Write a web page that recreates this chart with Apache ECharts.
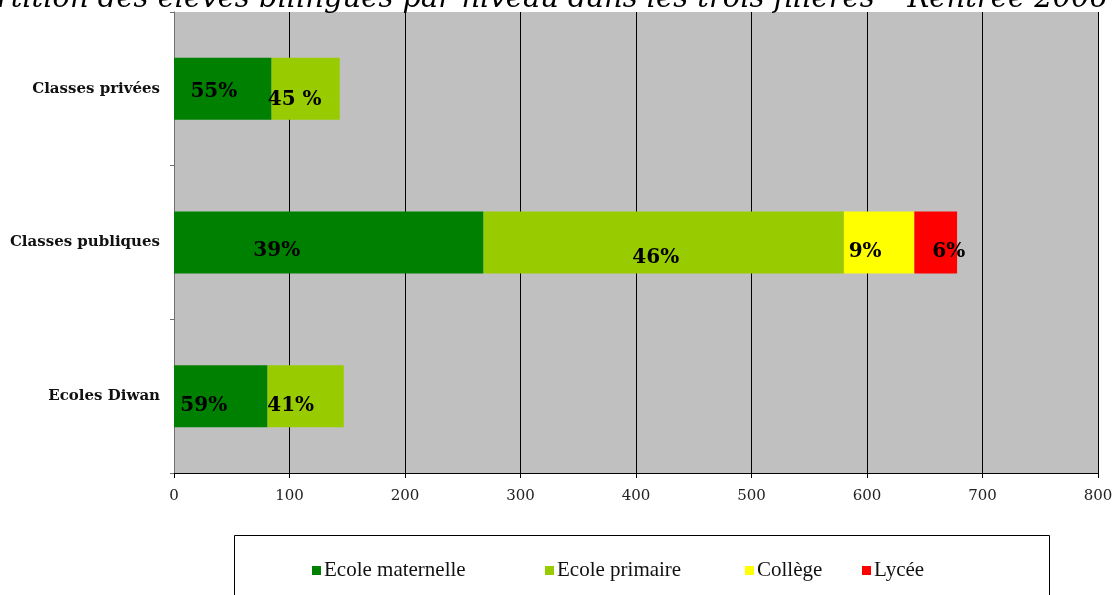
<!DOCTYPE html>
<html>
<head>
<meta charset="utf-8">
<script src="https://cdn.jsdelivr.net/npm/echarts@6/dist/echarts.min.js"></script>
<style>
  html, body { margin: 0; padding: 0; background: #fff; }
  #chart { width: 1116px; height: 595px; }
</style>
</head>
<body>
<div id="chart"></div>
<script>
// Bilingual pupils by school level, per stream (top row first)
const categories = ['Classes privées', 'Classes publiques', 'Ecoles Diwan'];
const seriesNames = ['Ecole maternelle', 'Ecole primaire', 'Collège', 'Lycée'];
const maternelle = [84.5, 268, 81];
const primaire   = [59, 312, 66];
const college    = [null, 61, null];
const lycee      = [null, 37, null];
const shareLabels = [
  ['55%', '39%', '59%'],
  ['45 %', '46%', '41%'],
  ['', '9%', ''],
  ['', '6%', '']
];
const xTicks = { min: 0, max: 800, interval: 100 };
const title = 'Répartition des élèves bilingues par niveau dans les trois filières – Rentrée 2006';

// presentation
const colors = ['#008000', '#99CC00', '#FFFF00', '#FF0000'];
const labelShift = [
  [[-9, 3], [-52, 8], [-17, 10]],
  [[-11, 11], [-8, 15], [-15, 10]],
  [[0, 0], [-14, 9], [0, 0]],
  [[0, 0], [13, 9], [0, 0]]
];
const legendLeft = [312, 545, 745, 862];

const values = [maternelle, primaire, college, lycee];

const series = seriesNames.map((name, s) => ({
  name,
  type: 'bar',
  stack: 'total',
  barWidth: 62,
  itemStyle: { color: colors[s] },
  label: {
    show: true,
    position: 'inside',
    color: '#000',
    fontFamily: 'DejaVu Serif',
    fontWeight: 'bold',
    fontSize: 20,
    formatter: p => shareLabels[s][p.dataIndex]
  },
  data: values[s].map((v, i) => ({
    value: v,
    label: { offset: labelShift[s][i] }
  }))
}));

const legends = seriesNames.map((name, s) => ({
  data: [name],
  left: legendLeft[s],
  top: 560,
  padding: 0,
  icon: 'rect',
  itemWidth: 9,
  itemHeight: 9,
  selectedMode: false,
  textStyle: { fontFamily: 'Liberation Serif', fontSize: 21, color: '#111', padding: [0, 0, 0, -2] }
}));

const chart = echarts.init(document.getElementById('chart'), null, { renderer: 'canvas' });
chart.setOption({
  animation: false,
  backgroundColor: '#fff',
  color: colors,
  grid: {
    left: 174, right: 18, top: 12, bottom: 122,
    show: true, backgroundColor: '#C0C0C0', borderWidth: 0
  },
  xAxis: {
    type: 'value',
    min: xTicks.min, max: xTicks.max, interval: xTicks.interval,
    axisLine: { show: true, lineStyle: { color: '#000', width: 1 } },
    axisTick: { show: true, length: 5, lineStyle: { color: '#000' } },
    splitLine: { show: true, lineStyle: { color: '#000', width: 1 } },
    axisLabel: { fontFamily: 'DejaVu Serif', fontSize: 15, color: '#222', margin: 16 }
  },
  yAxis: {
    type: 'category',
    data: categories,
    inverse: true,
    axisLine: { show: true, lineStyle: { color: '#707070', width: 1 } },
    axisTick: { show: true, length: 4, lineStyle: { color: '#707070' } },
    axisLabel: { fontFamily: 'DejaVu Serif', fontWeight: 'bold', fontSize: 15, color: '#111', margin: 14 }
  },
  legend: legends,
  graphic: [
    {
      type: 'rect',
      left: 232, top: 533,
      shape: { width: 815, height: 90 },
      style: { fill: 'none', stroke: '#000', lineWidth: 1 },
      z: -1
    },
    {
      type: 'text',
      x: 515, y: 14,
      style: {
        text: title,
        font: 'italic 29px "DejaVu Serif"',
        fill: '#000',
        align: 'center',
        verticalAlign: 'bottom'
      }
    }
  ],
  series
});
</script>
</body>
</html>
